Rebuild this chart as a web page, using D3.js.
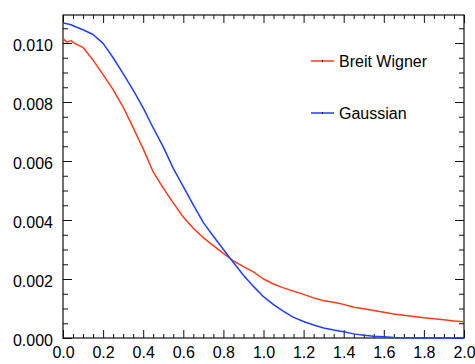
<!DOCTYPE html>
<html lang="en">
<head>
    <meta charset="UTF-8">
    <title>Breit Wigner vs Gaussian</title>
    <style>
        body { margin: 0; background: #fff; }
        svg { display: block; font-family: "Liberation Sans", Arial, Helvetica, sans-serif; }
        .tick text { font-size: 16px; fill: #000; }
    </style>
    <script src="https://d3js.org/d3.v7.min.js"></script>
</head>
<body>
<div id="chart"></div>
<script>
    // bin centres
    var xValues = [0.00, 0.02, 0.04, 0.06, 0.10, 0.15, 0.20, 0.25, 0.30, 0.35, 0.40, 0.45, 0.50, 0.55, 0.60,
        0.65, 0.70, 0.75, 0.80, 0.85, 0.90, 0.95, 1.00, 1.05, 1.10, 1.15, 1.20, 1.25, 1.30, 1.35,
        1.40, 1.45, 1.50, 1.55, 1.60, 1.65, 1.70, 1.75, 1.80, 1.85, 1.90, 1.95, 2.00];

    var breitWigner = [0.01015, 0.01003, 0.01008, 0.00998, 0.00985, 0.00942, 0.00893, 0.00842, 0.00783, 0.00713, 0.00641, 0.00563, 0.00508, 0.00458, 0.00410,
        0.00372, 0.00340, 0.00313, 0.00287, 0.00261, 0.00242, 0.00224, 0.00200, 0.00183, 0.00170, 0.00159, 0.00148, 0.00136, 0.00126, 0.00121,
        0.00114, 0.00104, 0.00099, 0.00093, 0.00087, 0.00081, 0.00077, 0.00073, 0.00069, 0.00065, 0.00062, 0.00058, 0.00055];

    var gaussian = [0.01068, 0.01065, 0.01062, 0.01056, 0.01045, 0.01029, 0.00999, 0.00950, 0.00896, 0.00840, 0.00780, 0.00712, 0.00648, 0.00575, 0.00513,
        0.00451, 0.00391, 0.00345, 0.00300, 0.00256, 0.00213, 0.00175, 0.00140, 0.00113, 0.00090, 0.00070, 0.00056, 0.00044, 0.00034, 0.00027,
        0.00021, 0.00014, 0.00009, 0.00006, 0.00004, 0.00002, 0.00001, 0.00001, 0.00000, 0.00000, 0.00000, 0.00000, 0.00000];

    var xTicks = [0.0, 0.2, 0.4, 0.6, 0.8, 1.0, 1.2, 1.4, 1.6, 1.8, 2.0];
    var yTicks = [0.000, 0.002, 0.004, 0.006, 0.008, 0.010];
    var legendNames = ["Breit Wigner", "Gaussian"];

    var width = 475, height = 364;
    var plotLeft = 63, plotRight = 464, plotTop = 15, plotBottom = 338;

    var svg = d3.select("#chart").append("svg").attr("width", width).attr("height", height);

    var xScale = d3.scaleLinear().domain([0, 2]).range([plotLeft, plotRight]);
    var yScale = d3.scaleLinear().domain([0, 0.01095]).range([plotBottom, plotTop]);

    // minor ticks: 4 subdivisions per major interval
    var xMinor = d3.range(0, 2.0001, 0.05).filter(function (v) { return Math.abs(v * 5 - Math.round(v * 5)) > 1e-6; });
    var yMinor = d3.range(0, 0.01095, 0.0005).filter(function (v) { return Math.abs(v * 500 - Math.round(v * 500)) > 1e-6; });

    function styleAxis(g) {
        g.select(".domain").remove();
        g.selectAll(".tick line").attr("stroke", "#111").attr("stroke-width", 1);
    }

    // bottom axis with labels
    svg.append("g").attr("transform", "translate(0," + plotBottom + ")")
        .call(d3.axisBottom(xScale).tickValues(xTicks).tickFormat(d3.format(".1f")).tickSize(-8).tickPadding(9))
        .call(styleAxis);
    svg.append("g").attr("transform", "translate(0," + plotBottom + ")")
        .call(d3.axisBottom(xScale).tickValues(xMinor).tickFormat("").tickSize(-4))
        .call(styleAxis);
    // top axis, ticks only
    svg.append("g").attr("transform", "translate(0," + plotTop + ")")
        .call(d3.axisTop(xScale).tickValues(xTicks).tickFormat("").tickSize(-8))
        .call(styleAxis);
    svg.append("g").attr("transform", "translate(0," + plotTop + ")")
        .call(d3.axisTop(xScale).tickValues(xMinor).tickFormat("").tickSize(-4))
        .call(styleAxis);

    // left axis with labels
    var yAxis = svg.append("g").attr("transform", "translate(" + plotLeft + ",0)")
        .call(d3.axisLeft(yScale).tickValues(yTicks).tickFormat(d3.format(".3f")).tickSize(-9).tickPadding(10))
        .call(styleAxis);
    yAxis.selectAll(".tick text").attr("dy", "0.45em");
    svg.append("g").attr("transform", "translate(" + plotLeft + ",0)")
        .call(d3.axisLeft(yScale).tickValues(yMinor).tickFormat("").tickSize(-5))
        .call(styleAxis);
    // right axis, ticks only
    svg.append("g").attr("transform", "translate(" + plotRight + ",0)")
        .call(d3.axisRight(yScale).tickValues(yTicks).tickFormat("").tickSize(-9))
        .call(styleAxis);
    svg.append("g").attr("transform", "translate(" + plotRight + ",0)")
        .call(d3.axisRight(yScale).tickValues(yMinor).tickFormat("").tickSize(-5))
        .call(styleAxis);

    // frame
    svg.append("rect")
        .attr("x", plotLeft).attr("y", plotTop)
        .attr("width", plotRight - plotLeft).attr("height", plotBottom - plotTop)
        .attr("fill", "none").attr("stroke", "#111").attr("stroke-width", 1.2);

    var colors = ["#ff3a1a", "#2040ff"];
    var series = [breitWigner, gaussian];

    var line = d3.line()
        .x(function (d, i) { return xScale(xValues[i]); })
        .y(function (d) { return yScale(d); });

    series.forEach(function (values, k) {
        svg.append("path")
            .datum(values)
            .attr("fill", "none")
            .attr("stroke", colors[k])
            .attr("stroke-width", 1.5)
            .attr("stroke-linejoin", "round")
            .attr("d", line);
    });

    // legend
    var legendY = [61, 113];
    legendNames.forEach(function (name, k) {
        var g = svg.append("g").attr("transform", "translate(311," + legendY[k] + ")");
        g.append("line").attr("x1", 0).attr("x2", 23).attr("y1", 0).attr("y2", 0)
            .attr("stroke", colors[k]).attr("stroke-width", 1.5);
        g.append("line").attr("x1", 11.5).attr("x2", 11.5).attr("y1", -0.8).attr("y2", 0.8)
            .attr("stroke", "#000").attr("stroke-width", 1);
        g.append("text").attr("x", 28).attr("y", 6)
            .attr("font-size", 16).attr("fill", "#000").text(name);
    });
</script>
</body>
</html>
